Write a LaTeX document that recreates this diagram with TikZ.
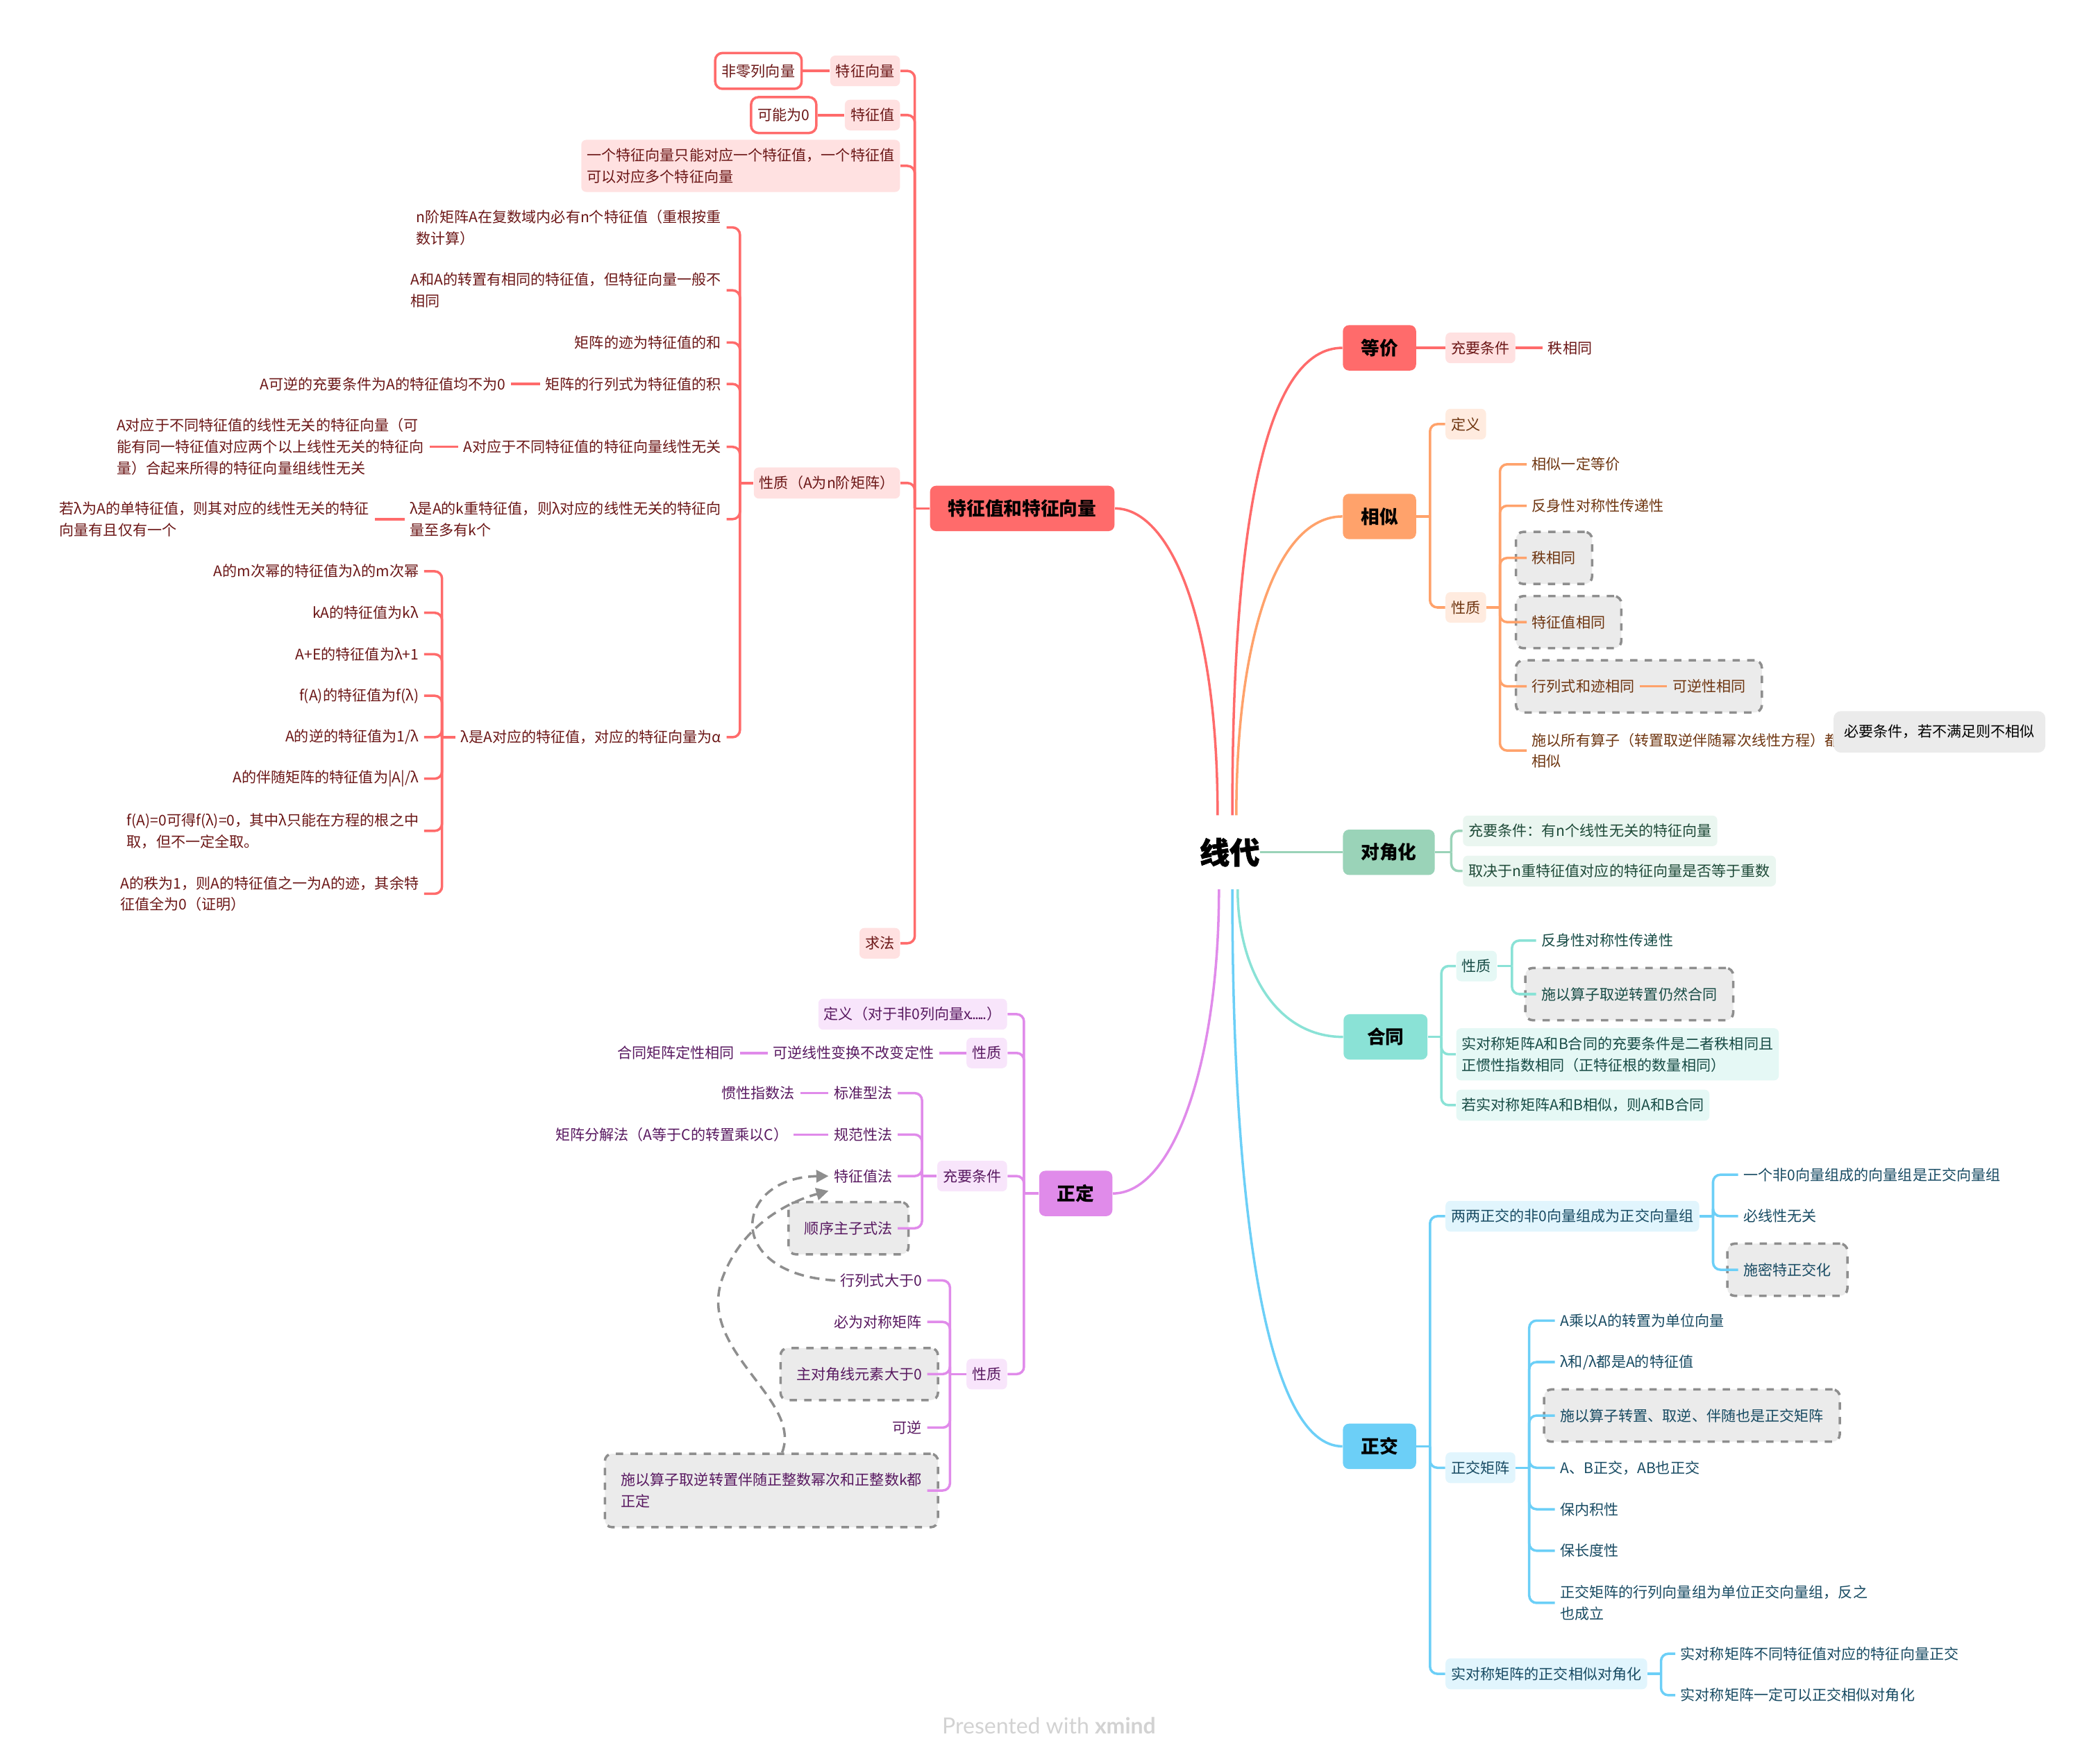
\documentclass[tikz,border=0pt]{standalone}
\usepackage{fontspec}
\setmainfont{Noto Sans CJK SC}
\newfontfamily\rootfont{Noto Sans CJK SC}[BoldFeatures={FakeBold=1.6}]
\newfontfamily\wmfont{Lato}
\usetikzlibrary{positioning,calc,fit,backgrounds,arrows.meta}
\newcommand{\smallcn}{\fontsize{6}{8.75}\selectfont}
\definecolor{redM}{HTML}{FF6B6B}\definecolor{redL}{HTML}{FFE1E1}\definecolor{redT}{HTML}{6B1616}
\definecolor{orgM}{HTML}{FFA26B}\definecolor{orgL}{HTML}{FFEBDF}\definecolor{orgT}{HTML}{6E3510}
\definecolor{grnM}{HTML}{9AD3B8}\definecolor{grnL}{HTML}{EAF6F0}\definecolor{grnT}{HTML}{1E4A38}
\definecolor{teaM}{HTML}{8AE2D6}\definecolor{teaL}{HTML}{E5F8F5}\definecolor{teaT}{HTML}{174B45}
\definecolor{bluM}{HTML}{6CCFF7}\definecolor{bluL}{HTML}{E1F5FD}\definecolor{bluT}{HTML}{174A62}
\definecolor{purM}{HTML}{E08BEA}\definecolor{purL}{HTML}{F8E5FB}\definecolor{purT}{HTML}{581860}
\definecolor{boxG}{HTML}{EBEBEB}\definecolor{lineG}{HTML}{8E8E8E}\definecolor{wmG}{HTML}{D2D2D2}

\begin{document}
\begin{tikzpicture}[x=0.01927cm,y=-0.01927cm,
   root/.style={font=\rootfont\fontsize{12.3}{14}\selectfont\bfseries,inner sep=0pt,minimum height=30pt},
   topic/.style={fill=#1M,rounded corners=2.5pt,inner xsep=7.4pt,minimum height=18.6pt,
     font=\fontsize{7.6}{9}\selectfont\bfseries},
   sub/.style={fill=#1L,text=#1T,rounded corners=2pt,inner xsep=2.3pt,inner ysep=3.5pt,
     minimum height=12pt,align=left,font=\smallcn},
   leaf/.style={text=#1T,inner sep=2pt,align=left,font=\smallcn},
   outl/.style={draw=redM,line width=1pt,fill=white,text=redT,rounded corners=3pt,
     inner xsep=2.7pt,minimum height=14.7pt,font=\smallcn},
   dbox/.style={draw=lineG,fill=boxG,dashed,line width=1pt,rounded corners=3pt,
     inner xsep=4.4pt,inner ysep=5.7pt},
   note/.style={fill=boxG,rounded corners=3pt,inner xsep=4.4pt,minimum height=17pt,font=\smallcn},
   br/.style={draw=#1M,line width=1pt,rounded corners=3pt},
   rel/.style={draw=lineG,line width=1pt,dash pattern=on 4pt off 2.5pt,
     -{Triangle[length=5pt,width=5pt]}}]
\useasboundingbox (0,0) rectangle (1568,1318);

\node[root] (root) at (919,637) {线代};

% 特征值和特征向量
\node[topic=red] (tz) at (764,380) {特征值和特征向量};
\coordinate (tz-s) at ($(tz.west)+(-11,0)$);
\node[sub=red,anchor=east] (tzxl) at (673,53) {特征向量};
\node[outl,anchor=east] (fl) at (600,53) {非零列向量};
\node[sub=red,anchor=east] (tzz) at (673,86) {特征值};
\node[outl,anchor=east] (kn0) at (611,86) {可能为0};
\node[sub=red,anchor=east] (dy) at (673,124) {一个特征向量只能对应一个特征值，一个特征值\\可以对应多个特征向量};
\node[sub=red,anchor=east] (xz) at (673,361) {性质（A为n阶矩阵）};
\node[sub=red,anchor=east] (qf) at (673,705) {求法};
\coordinate (xz-s) at ($(xz.west)+(-10,0)$);
\node[leaf=red,anchor=east] (x1) at (543,170) {n阶矩阵A在复数域内必有n个特征值（重根按重\\数计算）};
\node[leaf=red,anchor=east] (x2) at (543,217) {A和A的转置有相同的特征值，但特征向量一般不\\相同};
\node[leaf=red,anchor=east] (x3) at (543,256) {矩阵的迹为特征值的和};
\node[leaf=red,anchor=east] (x4) at (543,287) {矩阵的行列式为特征值的积};
\node[leaf=red,anchor=east] (x4a) at (382,287) {A可逆的充要条件为A的特征值均不为0};
\node[leaf=red,anchor=east] (x5) at (543,334) {A对应于不同特征值的特征向量线性无关};
\node[leaf=red,anchor=east] (x5a) at (321,334) {A对应于不同特征值的线性无关的特征向量（可\\能有同一特征值对应两个以上线性无关的特征向\\量）合起来所得的特征向量组线性无关};
\node[leaf=red,anchor=east] (x6) at (543,388) {λ是A的k重特征值，则λ对应的线性无关的特征向\\量至多有k个};
\node[leaf=red,anchor=east] (x6a) at (280,388) {若λ为A的单特征值，则其对应的线性无关的特征\\向量有且仅有一个};
\node[leaf=red,anchor=east] (x7) at (543,551) {λ是A对应的特征值，对应的特征向量为α};
\coordinate (x7-s) at ($(x7.west)+(-10,0)$);
\node[leaf=red,anchor=east] (y1) at (317,427) {A的m次幂的特征值为λ的m次幂};
\node[leaf=red,anchor=east] (y2) at (317,458) {kA的特征值为kλ};
\node[leaf=red,anchor=east] (y3) at (317,489) {A+E的特征值为λ+1};
\node[leaf=red,anchor=east] (y4) at (317,520) {f(A)的特征值为f(λ)};
\node[leaf=red,anchor=east] (y5) at (317,551) {A的逆的特征值为1/λ};
\node[leaf=red,anchor=east] (y6) at (317,582) {A的伴随矩阵的特征值为|A|/λ};
\node[leaf=red,anchor=east] (y7) at (317,621) {f(A)=0可得f(λ)=0，其中λ只能在方程的根之中\\取，但不一定全取。};
\node[leaf=red,anchor=east] (y8) at (317,668) {A的秩为1，则A的特征值之一为A的迹，其余特\\征值全为0（证明）};

% 正定
\node[topic=pur] (zd) at (804,892) {正定};
\coordinate (zd-s) at ($(zd.west)+(-11,0)$);
\node[sub=pur,anchor=east] (zd1) at (753,758) {定义（对于非0列向量x\kern-.1em.\kern-.1em.\kern-.1em.\kern-.1em.\kern-.1em.\kern-.1em.）};
\node[sub=pur,anchor=east] (zd2) at (753,787) {性质};
\node[leaf=pur,anchor=east] (zd2a) at (702,787) {可逆线性变换不改变定性};
\node[leaf=pur,anchor=east] (zd2b) at (553,787) {合同矩阵定性相同};
\node[sub=pur,anchor=east] (zd3) at (753,879) {充要条件};
\coordinate (zd3-s) at ($(zd3.west)+(-11,0)$);
\node[leaf=pur,anchor=east] (c1) at (671,817) {标准型法};
\node[leaf=pur,anchor=east] (c1a) at (598,817) {惯性指数法};
\node[leaf=pur,anchor=east] (c2) at (671,848) {规范性法};
\node[leaf=pur,anchor=east] (c2a) at (593,848) {矩阵分解法（A等于C的转置乘以C）};
\node[leaf=pur,anchor=east] (c3) at (671,879) {特征值法};
\node[leaf=pur,anchor=east] (c4) at (671,918) {顺序主子式法};
\node[sub=pur,anchor=east] (zd4) at (753,1027) {性质};
\coordinate (zd4-s) at ($(zd4.west)+(-12,0)$);
\node[leaf=pur,anchor=east] (p1) at (693,957) {行列式大于0};
\node[leaf=pur,anchor=east] (p2) at (693,988) {必为对称矩阵};
\node[leaf=pur,anchor=east] (p3) at (693,1027) {主对角线元素大于0};
\node[leaf=pur,anchor=east] (p4) at (693,1067) {可逆};
\node[leaf=pur,anchor=east] (p5) at (693,1114) {施以算子取逆转置伴随正整数幂次和正整数k都\\正定};

% 等价
\node[topic=red] (dj) at (1031,260) {等价};
\node[sub=red,anchor=west] (dj1) at (1080,260) {充要条件};
\node[leaf=red,anchor=west] (dj2) at (1153,260) {秩相同};

% 相似
\node[topic=org] (xs) at (1031,386) {相似};
\coordinate (xs-s) at ($(xs.east)+(10,0)$);
\node[sub=org,anchor=west] (xs1) at (1080,317) {定义};
\node[sub=org,anchor=west] (xs2) at (1080,454) {性质};
\coordinate (xs2-s) at ($(xs2.east)+(10,0)$);
\node[leaf=org,anchor=west] (s1) at (1141,347) {相似一定等价};
\node[leaf=org,anchor=west] (s2) at (1141,378) {反身性对称性传递性};
\node[leaf=org,anchor=west] (s3) at (1141,417) {秩相同};
\node[leaf=org,anchor=west] (s4) at (1141,465) {特征值相同};
\node[leaf=org,anchor=west] (s5) at (1141,513) {行列式和迹相同};
\node[leaf=org,anchor=west] (s5a) at (1246,513) {可逆性相同};
\node[leaf=org,anchor=west] (s6) at (1141,561) {施以所有算子（转置取逆伴随幂次线性方程）都\\相似};
\node[note,anchor=west] (bt) at (1370,547) {必要条件，若不满足则不相似};

% 对角化
\node[topic=grn] (djh) at (1038,637) {对角化};
\coordinate (djh-s) at ($(djh.east)+(12,0)$);
\node[sub=grn,anchor=west] (d1) at (1093,621) {充要条件：有n个线性无关的特征向量};
\node[sub=grn,anchor=west] (d2) at (1093,651) {取决于n重特征值对应的特征向量是否等于重数};

% 合同
\node[topic=tea,minimum width=34.4pt] (ht) at (1035.5,775) {合同};
\coordinate (ht-s) at ($(ht.east)+(10,0)$);
\node[sub=tea,anchor=west] (h1) at (1088,722) {性质};
\coordinate (h1-s) at ($(h1.east)+(11,0)$);
\node[leaf=tea,anchor=west] (h1a) at (1148,703) {反身性对称性传递性};
\node[leaf=tea,anchor=west] (h1b) at (1148,743) {施以算子取逆转置仍然合同};
\node[sub=tea,anchor=west] (h2) at (1088,788) {实对称矩阵A和B合同的充要条件是二者秩相同且\\正惯性指数相同（正特征根的数量相同）};
\node[sub=tea,anchor=west] (h3) at (1088,826) {若实对称矩阵A和B相似，则A和B合同};

% 正交
\node[topic=blu] (zj) at (1031,1081) {正交};
\coordinate (zj-s) at ($(zj.east)+(10,0)$);
\node[sub=blu,anchor=west] (z1) at (1080,909) {两两正交的非0向量组成为正交向量组};
\coordinate (z1-s) at ($(z1.east)+(10,0)$);
\node[leaf=blu,anchor=west] (z1a) at (1299,878) {一个非0向量组成的向量组是正交向量组};
\node[leaf=blu,anchor=west] (z1b) at (1299,909) {必线性无关};
\node[leaf=blu,anchor=west] (z1c) at (1299,949) {施密特正交化};
\node[sub=blu,anchor=west] (z2) at (1080,1097) {正交矩阵};
\coordinate (z2-s) at ($(z2.east)+(10,0)$);
\node[leaf=blu,anchor=west] (m1) at (1162,987) {A乘以A的转置为单位向量};
\node[leaf=blu,anchor=west] (m2) at (1162,1018) {λ和/λ都是A的特征值};
\node[leaf=blu,anchor=west] (m3) at (1162,1058) {施以算子转置、取逆、伴随也是正交矩阵};
\node[leaf=blu,anchor=west] (m4) at (1162,1097) {A、B正交，AB也正交};
\node[leaf=blu,anchor=west] (m5) at (1162,1128) {保内积性};
\node[leaf=blu,anchor=west] (m6) at (1162,1159) {保长度性};
\node[leaf=blu,anchor=west] (m7) at (1162,1198) {正交矩阵的行列向量组为单位正交向量组，反之\\也成立};
\node[sub=blu,anchor=west] (z3) at (1080,1251) {实对称矩阵的正交相似对角化};
\coordinate (z3-s) at ($(z3.east)+(10,0)$);
\node[leaf=blu,anchor=west] (z3a) at (1252,1236) {实对称矩阵不同特征值对应的特征向量正交};
\node[leaf=blu,anchor=west] (z3b) at (1252,1267) {实对称矩阵一定可以正交相似对角化};

\node[font=\wmfont\fontsize{9.1}{10}\selectfont,text=wmG] (wm) at (784,1290) {Presented with \textbf{xmind}};

% dashed boundaries
\begin{scope}[on background layer]
  \node[dbox,fit=(s3)] {};
  \node[dbox,fit=(s4)] {};
  \node[dbox,fit=(s5)(s5a)] {};
  \node[dbox,fit=(h1b)] {};
  \node[dbox,fit=(z1c)] {};
  \node[dbox,fit=(m3)] {};
  \node[dbox,fit=(c4)] (c4b) {};
  \node[dbox,fit=(p3)] {};
  \node[dbox,fit=(p5)] (p5b) {};
\end{scope}

% branches from the root
\draw[br=red] ($(root.north)+(-9,0)$) .. controls +(0,-150) and +(40,0) .. (tz.east);
\draw[br=red] ($(root.north)+(2,0)$) .. controls +(0,-230) and +(-55,0) .. (dj.west);
\draw[br=org] ($(root.north)+(5,0)$) .. controls +(0,-130) and +(-50,0) .. (xs.west);
\draw[br=grn] (root.east) -- (djh.west);
\draw[br=tea] ($(root.south)+(6,0)$) .. controls +(0,60) and +(-50,0) .. (ht.west);
\draw[br=blu] ($(root.south)+(2,0)$) .. controls +(0,250) and +(-55,0) .. (zj.west);
\draw[br=pur] ($(root.south)+(-8,0)$) .. controls +(0,130) and +(45,0) .. (zd.east);

% left side
\draw[br=red] (tz.west) -- (tz-s);
\foreach \n in {tzxl,tzz,dy,xz,qf} \draw[br=red] (\n.east) -| (tz-s);
\draw[br=red] (tzxl.west) -- (fl.east) (tzz.west) -- (kn0.east);
\draw[br=red] (xz.west) -- (xz-s);
\foreach \n in {x1,x2,x3,x4,x5,x6,x7} \draw[br=red] (\n.east) -| (xz-s);
\draw[br=red] (x4.west) -- (x4a.east) (x5.west) -- (x5a.east) (x6.west) -- (x6a.east);
\draw[br=red] (x7.west) -- (x7-s);
\foreach \n in {y1,y2,y3,y4,y5,y6,y7,y8} \draw[br=red] (\n.east) -| (x7-s);

\draw[br=pur] (zd.west) -- (zd-s);
\foreach \n in {zd1,zd2,zd3,zd4} \draw[br=pur] (\n.east) -| (zd-s);
\draw[br=pur] (zd2.west) -- (zd2a.east) (zd2a.west) -- (zd2b.east);
\draw[br=pur] (zd3.west) -- (zd3-s);
\foreach \n in {c1,c2,c3,c4} \draw[br=pur] (\n.east) -| (zd3-s);
\draw[br=pur] (c1.west) -- (c1a.east) (c2.west) -- (c2a.east);
\draw[br=pur] (zd4.west) -- (zd4-s);
\foreach \n in {p1,p2,p3,p4,p5} \draw[br=pur] (\n.east) -| (zd4-s);
\draw[rel] (p1.west) .. controls (540,952) and (548,880) .. (c3.west);
\draw[rel] ($(p5b.north)+(8,0)$) .. controls (600,1045) and (520,1010) .. (540,955)
   .. controls (555,915) and (590,898) .. ($(c3.south west)+(0,2)$);

% right side
\draw[br=red] (dj.east) -- (dj1.west) (dj1.east) -- (dj2.west);
\draw[br=org] (xs.east) -- (xs-s);
\foreach \n in {xs1,xs2} \draw[br=org] (\n.west) -| (xs-s);
\draw[br=org] (xs2.east) -- (xs2-s);
\foreach \n in {s1,s2,s3,s4,s5,s6} \draw[br=org] (\n.west) -| (xs2-s);
\draw[br=org] (s5.east) -- (s5a.west);
\draw[br=grn] (djh.east) -- (djh-s);
\foreach \n in {d1,d2} \draw[br=grn] (\n.west) -| (djh-s);
\draw[br=tea] (ht.east) -- (ht-s);
\foreach \n in {h1,h2,h3} \draw[br=tea] (\n.west) -| (ht-s);
\draw[br=tea] (h1.east) -- (h1-s);
\foreach \n in {h1a,h1b} \draw[br=tea] (\n.west) -| (h1-s);
\draw[br=blu] (zj.east) -- (zj-s);
\foreach \n in {z1,z2,z3} \draw[br=blu] (\n.west) -| (zj-s);
\draw[br=blu] (z1.east) -- (z1-s);
\foreach \n in {z1a,z1b,z1c} \draw[br=blu] (\n.west) -| (z1-s);
\draw[br=blu] (z2.east) -- (z2-s);
\foreach \n in {m1,m2,m3,m4,m5,m6,m7} \draw[br=blu] (\n.west) -| (z2-s);
\draw[br=blu] (z3.east) -- (z3-s);
\foreach \n in {z3a,z3b} \draw[br=blu] (\n.west) -| (z3-s);
\end{tikzpicture}
\end{document}
